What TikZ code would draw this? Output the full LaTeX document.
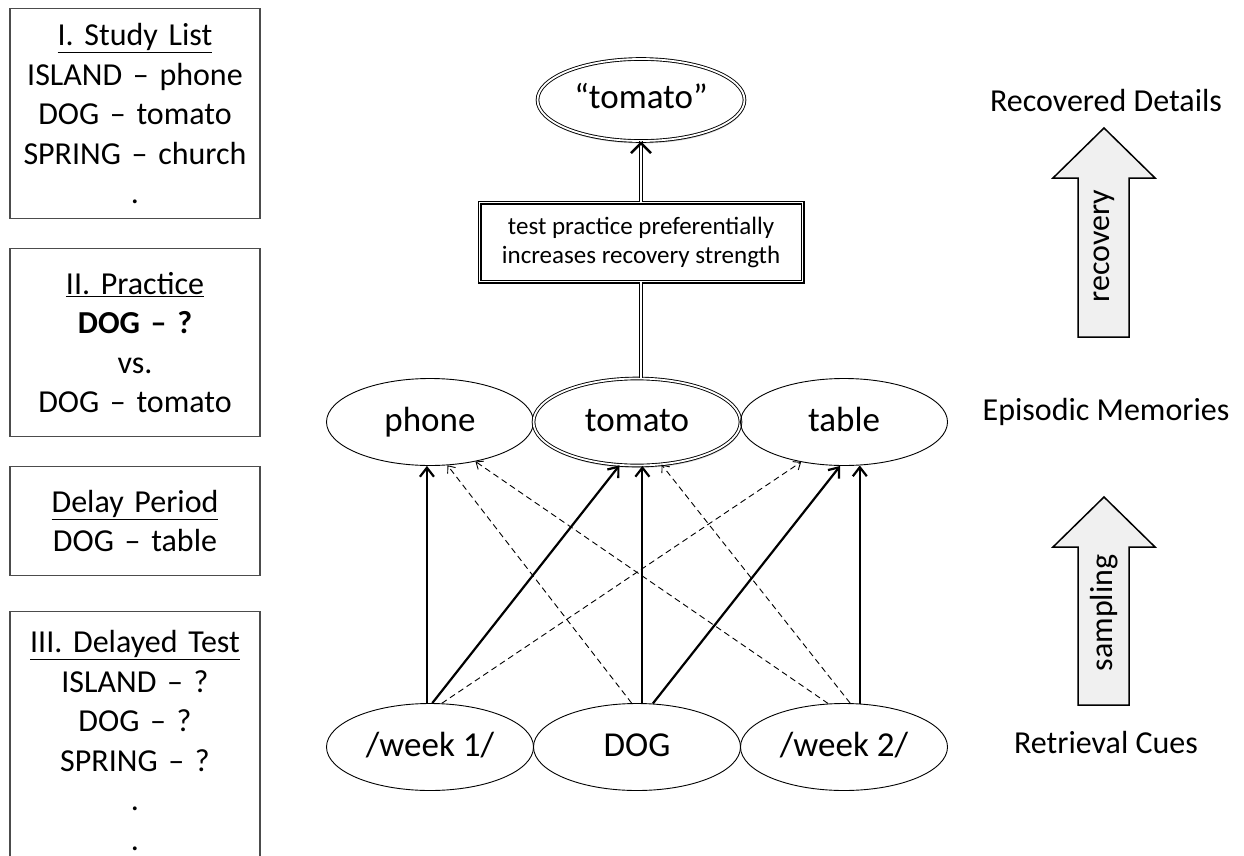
\documentclass[tikz,border=0pt]{standalone}
\usepackage{fontspec}
\setmainfont{Carlito}
\usetikzlibrary{shapes.geometric}
\usetikzlibrary{arrows.meta}
\usetikzlibrary{shadows}
\usetikzlibrary{positioning}

\tikzset{
  memory/.style={ellipse, draw, line width=0.9pt, minimum width=207pt, minimum height=87pt, inner sep=0pt, text height=25pt, text depth=7pt, font=\fontsize{35}{42}\selectfont},
  recalled/.style={memory, double, double distance=1.8pt, fill=white, drop shadow={opacity=0.3, shadow xshift=0.6pt, shadow yshift=-2.5pt}},
  listbox/.style={draw=black!70, line width=1.2pt, anchor=north, minimum width=250pt, text width=240pt, align=center, inner sep=0pt, font=\fontsize{32}{39.5}\selectfont},
  level/.style={anchor=base, font=\fontsize{32}{38}\selectfont},
  strong/.style={line width=2.2pt, -{Straight Barb[length=9pt,width=14pt]}},
  weak/.style={line width=0.9pt, dash pattern=on 6pt off 4pt, -{Straight Barb[length=6pt,width=10pt]}},
  twin/.style={double, double distance=1.8pt, line width=1pt},
  blockarrow/.style={fill=black!6, draw, line width=1.5pt, line join=miter}
}

\begin{document}
\begin{tikzpicture}[x=1pt, y=-1pt]

\useasboundingbox (0,0) rectangle (1244,856);

% list of phases
\node[listbox, minimum height=210pt] (study) at (135,8) {\underline{I. Study List}\\ISLAND -- phone\\DOG -- tomato\\SPRING -- church\\.};
\node[listbox, minimum height=188pt] (practice) at (135,248) {\underline{II. Practice}\\\textbf{DOG -- ?}\\vs.\\DOG -- tomato};
\node[listbox, minimum height=109pt] (delay) at (135,466) {\underline{Delay Period}\\DOG -- table};
\node[listbox, minimum height=258pt] (test) at (135,611) {\underline{III. Delayed Test}\\ISLAND -- ?\\DOG -- ?\\SPRING -- ?\\.\\.};

% memories
\node[recalled, minimum height=82pt] (recall) at (641,100) {``tomato''};
\node[draw, double, double distance=1.8pt, line width=1.1pt, fill=white, drop shadow={opacity=0.3, shadow xshift=0.6pt, shadow yshift=-2.5pt}, minimum width=323pt, minimum height=79pt, align=center, font=\fontsize{25}{29}\selectfont] (gain) at (641,242) {test practice preferentially\\increases recovery strength};

\node[memory] (phone) at (430,422) {phone};
\node[recalled] (tomato) at (637,422) {tomato};
\node[memory] (table) at (844,422) {table};

\node[memory] (weekone) at (430,747) {/week 1/};
\node[memory] (dog) at (637,747) {DOG};
\node[memory] (weektwo) at (844,747) {/week 2/};

\draw[twin] (gain.north) -- (recall.south);
\draw[line width=2.4pt, -{Straight Barb[length=10pt,width=20pt]}] ([yshift=-0.5pt]recall.south) -- (recall.south);
\draw[twin] ([xshift=4pt]tomato.north) -- (gain.south);

\draw[strong] (weekone.94) -- (phone.-94);
\draw[strong] (weekone.87) -- (tomato.-112);
\draw[strong] (dog.83) -- (tomato.-83);
\draw[strong] (dog.70) -- (table.-95);
\draw[strong] (weektwo.70) -- (table.-70);

\draw[weak] (weekone.75) -- (table.-137);
\draw[weak] (dog.97) -- (phone.-68);
\draw[weak] (weektwo.110) -- (phone.-41);
\draw[weak] (weektwo.82) -- (tomato.-60);

% levels
\node[level] (details) at (1106,112) {Recovered Details};
\node[level] (episodes) at (1106,420) {Episodic Memories};
\node[level] (cues) at (1106,753) {Retrieval Cues};

\filldraw[blockarrow] (1078,337) -- (1078,178) -- (1053,178) -- (1104,128) -- (1155,178) -- (1129,178) -- (1129,337) -- cycle;
\filldraw[blockarrow] (1078,705) -- (1078,547) -- (1053,547) -- (1104,497) -- (1155,547) -- (1129,547) -- (1129,705) -- cycle;
\node[rotate=90, font=\fontsize{32}{38}\selectfont] (recovery) at (1104,246) {recovery};
\node[rotate=90, font=\fontsize{32}{38}\selectfont] (sampling) at (1104,613) {sampling};

\end{tikzpicture}
\end{document}
